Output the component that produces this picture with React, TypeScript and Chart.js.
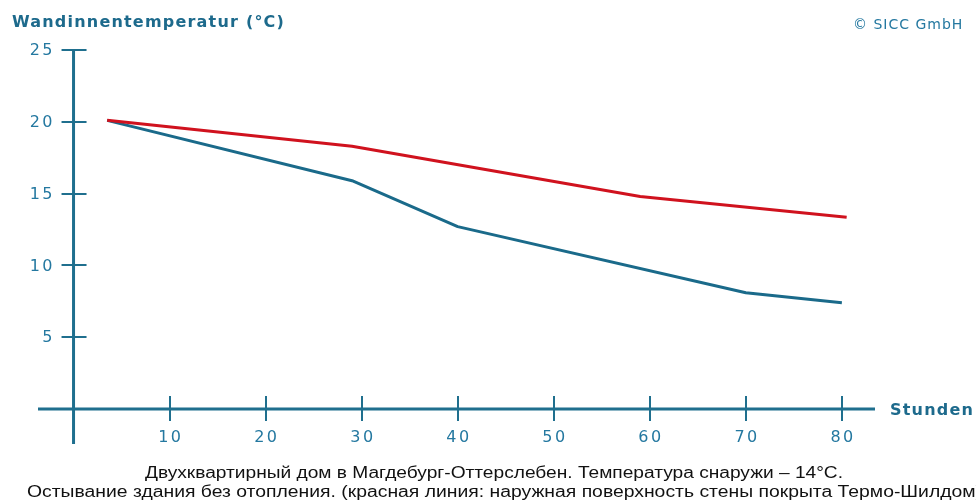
import React, { useEffect, useRef } from "react";
import { Chart, registerables } from "chart.js";

Chart.register(...registerables);

// ---- data ----
const xTicks = [10, 20, 30, 40, 50, 60, 70, 80];
const yTicks = [5, 10, 15, 20, 25];
const redHours = [3.5, 29, 59, 80.5];
const redTemps = [20.1, 18.3, 14.8, 13.35];
const blueHours = [3.5, 29, 40, 70, 80];
const blueTemps = [20.1, 15.9, 12.7, 8.1, 7.4];

const yTitle = "Wandinnentemperatur (°C)";
const xTitle = "Stunden";
const copyright = "© SICC GmbH";
const caption1 = "Двухквартирный дом в Магдебург-Оттерслебен. Температура снаружи – 14°C.";
const caption2 =
  "Остывание здания без отопления. (красная линия: наружная поверхность стены покрыта Термо-Шилдом)";

// ---- styles ----
const AXIS = "#1f6f8e";
const TEXT_BLUE = "#2478a0";
const TITLE_BLUE = "#1d6a8c";
const RED = "#d0121e";
const BLUE = "#1a6a8a";

function drawFitted(ctx: CanvasRenderingContext2D, text: string, x: number, y: number, width: number) {
  const w = ctx.measureText(text).width;
  ctx.save();
  ctx.translate(x, y);
  ctx.scale(width / w, 1);
  ctx.textAlign = "left";
  ctx.fillText(text, 0, 0);
  ctx.restore();
}

const decorPlugin = {
  id: "decor",
  beforeDatasetsDraw(chart: any) {
    const { ctx, chartArea, scales } = chart;
    const x = scales.x;
    const y = scales.y;
    const ax = x.getPixelForValue(0);
    const ay = y.getPixelForValue(0);
    ctx.save();
    ctx.strokeStyle = AXIS;
    ctx.lineCap = "butt";
    ctx.lineWidth = 3;
    ctx.beginPath();
    ctx.moveTo(chartArea.left, ay);
    ctx.lineTo(chartArea.right, ay);
    ctx.stroke();
    ctx.beginPath();
    ctx.moveTo(ax, y.getPixelForValue(yTicks[yTicks.length - 1]) - 1);
    ctx.lineTo(ax, ay + 35);
    ctx.stroke();
    ctx.lineWidth = 2;
    for (const v of yTicks) {
      const py = Math.round(y.getPixelForValue(v));
      ctx.beginPath();
      ctx.moveTo(ax - 12, py);
      ctx.lineTo(ax + 13, py);
      ctx.stroke();
    }
    for (const v of xTicks) {
      const px = Math.round(x.getPixelForValue(v));
      ctx.beginPath();
      ctx.moveTo(px, ay - 13);
      ctx.lineTo(px, ay + 12);
      ctx.stroke();
    }
    ctx.restore();
  },
  afterDraw(chart: any) {
    const { ctx, scales } = chart;
    const x = scales.x;
    const y = scales.y;
    const ax = x.getPixelForValue(0);
    const ay = y.getPixelForValue(0);
    ctx.save();
    // tick labels
    const sp = 2.5;
    ctx.letterSpacing = sp + "px";
    ctx.font = "16px 'DejaVu Sans'";
    ctx.fillStyle = TEXT_BLUE;
    ctx.textBaseline = "middle";
    ctx.textAlign = "right";
    for (const v of yTicks) {
      ctx.fillText(String(v), ax - 21 + sp, y.getPixelForValue(v) + 1);
    }
    ctx.textAlign = "center";
    for (const v of xTicks) {
      ctx.fillText(String(v), x.getPixelForValue(v) + sp / 2, ay + 29);
    }
    // titles
    ctx.textBaseline = "alphabetic";
    ctx.textAlign = "left";
    ctx.fillStyle = TITLE_BLUE;
    ctx.font = "bold 16px 'DejaVu Sans'";
    ctx.letterSpacing = "1.2px";
    ctx.fillText(yTitle, 12, 27);
    ctx.fillText(xTitle, 890, ay + 6);
    ctx.font = "14px 'DejaVu Sans'";
    ctx.letterSpacing = "1px";
    ctx.fillStyle = TEXT_BLUE;
    ctx.fillText(copyright, 853, 29);
    // captions
    ctx.letterSpacing = "0px";
    ctx.fillStyle = "#111111";
    ctx.font = "16px 'Liberation Sans'";
    drawFitted(ctx, caption1, 145, 478, 698);
    drawFitted(ctx, caption2, 27, 497, 955);
    ctx.restore();
  },
};

export default function App() {
  const ref = useRef<HTMLCanvasElement | null>(null);
  useEffect(() => {
    document.body.style.margin = "0";
    const canvas = ref.current!;
    const chart = new Chart(canvas, {
      type: "line",
      data: {
        datasets: [
          {
            label: "Termo-Shield",
            data: redHours.map((h, i) => ({ x: h, y: redTemps[i] })),
            borderColor: RED,
            backgroundColor: RED,
            borderWidth: 3,
            pointRadius: 0,
            tension: 0,
            borderJoinStyle: "round",
          },
          {
            label: "Ohne",
            data: blueHours.map((h, i) => ({ x: h, y: blueTemps[i] })),
            borderColor: BLUE,
            backgroundColor: BLUE,
            borderWidth: 3,
            pointRadius: 0,
            tension: 0,
            borderJoinStyle: "round",
          },
        ],
      },
      options: {
        animation: false,
        responsive: false,
        maintainAspectRatio: false,
        devicePixelRatio: 1,
        layout: { padding: { left: 38, right: 101, top: 50, bottom: 93 } },
        plugins: { legend: { display: false }, tooltip: { enabled: false }, title: { display: false } },
        scales: {
          x: {
            type: "linear",
            display: false,
            min: -3.7,
            max: 83.45,
            afterBuildTicks: (s: any) => {
              s.ticks = xTicks.map((v) => ({ value: v }));
            },
          },
          y: {
            type: "linear",
            display: false,
            min: 0,
            max: 25,
            afterBuildTicks: (s: any) => {
              s.ticks = yTicks.map((v) => ({ value: v }));
            },
          },
        },
      },
      plugins: [decorPlugin],
    });
    return () => chart.destroy();
  }, []);
  return (
    <div style={{ width: 976, height: 502, background: "#ffffff" }}>
      <canvas ref={ref} width={976} height={502} style={{ display: "block", width: 976, height: 502 }} />
    </div>
  );
}
